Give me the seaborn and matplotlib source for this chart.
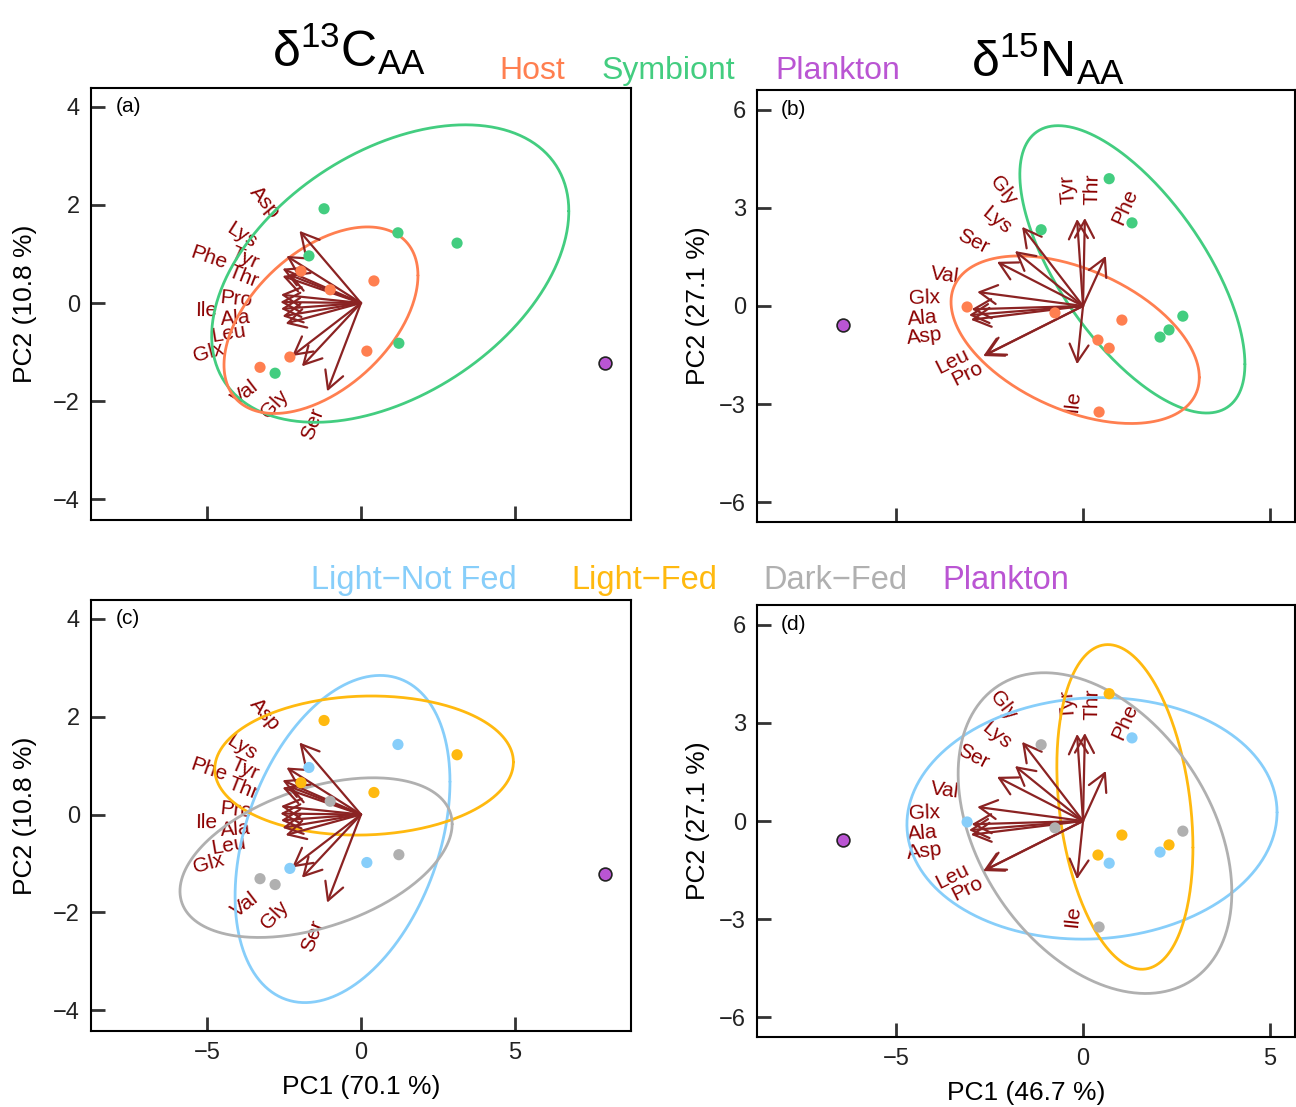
import numpy as np
import matplotlib
matplotlib.use('Agg')
import matplotlib.pyplot as plt
import seaborn as sns

# ---- d13C PCA: sample scores (same scores in panels a and c)
c_pc1 = [-1.20, 1.20, 3.12, -1.69, 1.23, -2.79, -1.95, -1.00, 0.42, 0.19, -2.31, -3.28]
c_pc2 = [1.92, 1.43, 1.22, 0.96, -0.82, -1.43, 0.65, 0.27, 0.45, -0.98, -1.10, -1.31]
c_fraction = ['Symbiont'] * 6 + ['Host'] * 6
c_treat = ['Light-Fed', 'Light-Not Fed', 'Light-Fed', 'Light-Not Fed', 'Dark-Fed', 'Dark-Fed',
           'Light-Fed', 'Dark-Fed', 'Light-Fed', 'Light-Not Fed', 'Light-Not Fed', 'Dark-Fed']
c_plankton = (7.92, -1.22)

# d13C loadings (arrow tips) and where their labels sit
c_aa = ['Asp', 'Lys', 'Tyr', 'Phe', 'Thr', 'Pro', 'Ile', 'Ala', 'Leu', 'Glx', 'Val', 'Gly', 'Ser']
c_load_x = [-2.00, -2.42, -2.55, -2.55, -2.35, -2.60, -2.62, -2.60, -2.55, -2.45, -2.24, -1.92, -1.10]
c_load_y = [1.47, 0.96, 0.70, 0.55, 0.58, 0.17, 0.02, -0.12, -0.27, -0.42, -1.08, -1.29, -1.80]
c_lab_x = [-3.12, -3.86, -3.77, -4.94, -3.83, -4.06, -5.03, -4.09, -4.29, -4.94, -3.77, -2.79, -1.56]
c_lab_y = [2.04, 1.37, 0.92, 0.92, 0.53, 0.08, -0.16, -0.31, -0.63, -1.00, -1.84, -2.06, -2.47]

# ---- d15N PCA: sample scores (panels b and d)
n_pc1 = [0.70, 1.31, -1.12, 2.67, 2.30, 2.06, -3.10, -0.75, 1.04, 0.40, 0.70, 0.43]
n_pc2 = [3.89, 2.54, 2.33, -0.31, -0.73, -0.95, -0.03, -0.21, -0.43, -1.04, -1.29, -3.24]
n_fraction = ['Symbiont'] * 6 + ['Host'] * 6
n_treat = ['Light-Fed', 'Light-Not Fed', 'Dark-Fed', 'Dark-Fed', 'Light-Fed', 'Light-Not Fed',
           'Light-Not Fed', 'Dark-Fed', 'Light-Fed', 'Light-Fed', 'Light-Not Fed', 'Dark-Fed']
n_plankton = (-6.42, -0.57)

n_aa = ['Gly', 'Lys', 'Ser', 'Val', 'Glx', 'Ala', 'Asp', 'Leu', 'Pro', 'Tyr', 'Thr', 'Phe', 'Ile']
n_load_x = [-1.63, -1.82, -2.30, -2.83, -2.98, -3.05, -3.00, -2.67, -2.62, -0.16, 0.05, 0.61, -0.16]
n_load_y = [2.42, 1.68, 1.35, 0.43, -0.10, -0.28, -0.42, -1.53, -1.50, 2.66, 2.69, 1.53, -1.78]
n_lab_x = [-2.14, -2.30, -2.94, -3.69, -4.25, -4.30, -4.25, -3.48, -3.10, -0.40, 0.24, 1.12, -0.27]
n_lab_y = [3.52, 2.60, 1.96, 0.92, 0.24, -0.37, -0.92, -1.68, -2.08, 3.58, 3.58, 3.03, -2.91]

# ---- ellipses: centre x/y, half-extent x/y, correlation
ell_a = {'Symbiont': (0.95, 0.60, 5.80, 3.03, 0.42),
         'Host': (-1.30, -0.35, 3.15, 1.90, 0.48)}
ell_b = {'Symbiont': (1.32, 1.12, 3.01, 4.39, -0.66),
         'Host': (-0.21, -1.03, 3.32, 2.56, -0.45)}
ell_c = {'Light-Not Fed': (-0.60, -0.50, 3.49, 3.34, 0.35),
         'Light-Fed': (0.10, 1.00, 4.85, 1.42, 0.05),
         'Dark-Fed': (-1.46, -0.88, 4.42, 1.63, 0.42)}
ell_d = {'Light-Not Fed': (0.24, 0.08, 4.95, 3.69, 0.05),
         'Light-Fed': (1.12, 0.43, 1.82, 4.96, -0.25),
         'Dark-Fed': (0.32, -0.37, 3.66, 4.90, -0.37)}

frac_pal = {'Host': '#FF7F50', 'Symbiont': '#43CD80'}
treat_pal = {'Light-Not Fed': '#87CEFA', 'Light-Fed': '#FFB90F', 'Dark-Fed': '#B0B0B0'}
plank_col = '#BA55D3'
arrow_col = '#8B2323'
label_col = '#8B0000'

sns.set_style('white')
plt.rcParams['font.family'] = ['Liberation Sans', 'DejaVu Sans']
plt.rcParams['mathtext.fontset'] = 'custom'
plt.rcParams['mathtext.rm'] = 'Liberation Sans'
plt.rcParams['text.color'] = 'black'

fig = plt.figure(figsize=(12.96, 11.07), dpi=100)
W, H = 1296, 1107


def box(l, t, r, b):
    return [l / W, 1 - b / H, (r - l) / W, (b - t) / H]


ax_a = fig.add_axes(box(91, 88, 631, 520))
ax_b = fig.add_axes(box(757, 90, 1295, 522))
ax_c = fig.add_axes(box(91, 600, 631, 1031))
ax_d = fig.add_axes(box(757, 605, 1295, 1037))


def draw_panel(ax, pc1, pc2, groups, pal, ells, plank, aa, lx, ly, tx, ty,
               xlim, ylim, yticks, letter, bottom, xlab, ylab):
    ax.set_xlim(*xlim)
    ax.set_ylim(*ylim)
    ax.set_xticks([-5, 0, 5])
    ax.set_yticks(yticks)
    ax.tick_params(bottom=True, left=True, direction='in', length=10, width=2,
                   color='#333333', labelcolor='#222222', labelsize=17, pad=8,
                   labelbottom=bottom)
    for s in ax.spines.values():
        s.set_linewidth(1.5)
        s.set_color('black')

    # confidence ellipses
    t = np.linspace(0, 2 * np.pi, 300)
    for g, (cx, cy, sx, sy, r) in ells.items():
        ex = cx + sx * np.cos(t)
        ey = cy + sy * (r * np.cos(t) + np.sqrt(1 - r ** 2) * np.sin(t))
        ax.plot(ex, ey, color=pal[g], lw=2, zorder=2.5)

    # loading arrows and labels
    p0 = ax.transData.transform((0, 0))
    for name, x, y, px, py in zip(aa, lx, ly, tx, ty):
        ax.annotate('', xy=(x, y), xytext=(0, 0),
                    arrowprops=dict(arrowstyle='->,head_length=0.7,head_width=0.38',
                                    mutation_scale=18, lw=1.6, color=arrow_col,
                                    shrinkA=0, shrinkB=0), zorder=3)
        p1 = ax.transData.transform((x, y))
        ang = np.degrees(np.arctan2(p1[1] - p0[1], p1[0] - p0[0]))
        if ang > 100:
            ang -= 180
        elif ang < -80:
            ang += 180
        ax.text(px, py, name, color=label_col, fontsize=15, rotation=ang,
                rotation_mode='anchor', ha='center', va='center', zorder=2)

    sns.scatterplot(x=pc1, y=pc2, hue=groups, palette=pal, s=65, linewidth=0,
                    legend=False, ax=ax, zorder=4)
    ax.scatter([plank[0]], [plank[1]], s=85, color=plank_col, edgecolor='#222222',
               linewidth=1.2, zorder=4)

    ax.text(0.045, yticks[-1], letter, fontsize=15,
            transform=ax.get_yaxis_transform(), ha='left', va='center')
    ax.text(ylab[0], 0.5, ylab[1], fontsize=19, rotation=90,
            transform=ax.transAxes, ha='center', va='center')
    if bottom:
        ax.text(0.5, -0.13, xlab, fontsize=19, transform=ax.transAxes,
                ha='center', va='center')


c_lim = ((-8.77, 8.77), (-4.42, 4.38))
n_lim = ((-8.72, 5.67), (-6.6, 6.6))

draw_panel(ax_a, c_pc1, c_pc2, c_fraction, frac_pal, ell_a, c_plankton,
           c_aa, c_load_x, c_load_y, c_lab_x, c_lab_y, *c_lim, [-4, -2, 0, 2, 4],
           '(a)', False, '', (-0.122, 'PC2 (10.8 %)'))
draw_panel(ax_b, n_pc1, n_pc2, n_fraction, frac_pal, ell_b, n_plankton,
           n_aa, n_load_x, n_load_y, n_lab_x, n_lab_y, *n_lim, [-6, -3, 0, 3, 6],
           '(b)', False, '', (-0.11, 'PC2 (27.1 %)'))
draw_panel(ax_c, c_pc1, c_pc2, c_treat, treat_pal, ell_c, c_plankton,
           c_aa, c_load_x, c_load_y, c_lab_x, c_lab_y, *c_lim, [-4, -2, 0, 2, 4],
           '(c)', True, 'PC1 (70.1 %)', (-0.122, 'PC2 (10.8 %)'))
draw_panel(ax_d, n_pc1, n_pc2, n_treat, treat_pal, ell_d, n_plankton,
           n_aa, n_load_x, n_load_y, n_lab_x, n_lab_y, *n_lim, [-6, -3, 0, 3, 6],
           '(d)', True, 'PC1 (46.7 %)', (-0.11, 'PC2 (27.1 %)'))

# titles
fig.text(349 / W, 1 - 67 / H, r'$\mathregular{\delta^{13}C_{AA}}$', fontsize=36,
         ha='center', va='baseline')
fig.text(1048 / W, 1 - 77 / H, r'$\mathregular{\delta^{15}N_{AA}}$', fontsize=36,
         ha='center', va='baseline')

# colour keys
for txt, xc, col in [('Host', 532, frac_pal['Host']), ('Symbiont', 668, frac_pal['Symbiont']),
                     ('Plankton', 838, plank_col)]:
    fig.text(xc / W, 1 - 79 / H, txt, color=col, fontsize=23, ha='center', va='baseline')
for txt, xc, col in [('Light\u2212Not Fed', 414, treat_pal['Light-Not Fed']),
                     ('Light\u2212Fed', 644, treat_pal['Light-Fed']),
                     ('Dark\u2212Fed', 835, treat_pal['Dark-Fed']),
                     ('Plankton', 1006, plank_col)]:
    fig.text(xc / W, 1 - 589 / H, txt, color=col, fontsize=23.5, ha='center', va='baseline')

fig.savefig('out.png', dpi=100)
